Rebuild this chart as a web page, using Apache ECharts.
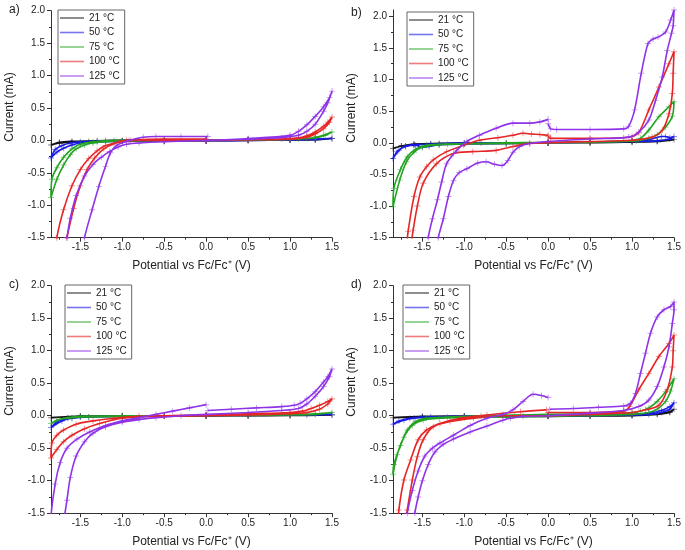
<!DOCTYPE html>
<html>
<head>
<meta charset="utf-8">
<script src="https://cdn.jsdelivr.net/npm/echarts@6/dist/echarts.min.js"></script>
<style>html,body{margin:0;padding:0;background:#fff}#c{width:685px;height:550px}</style>
</head>
<body>
<div id="c"></div>
<script>
// ---------- labels ----------
const temps = ['21 °C', '50 °C', '75 °C', '100 °C', '125 °C'];
const panelLabels = ['a)', 'b)', 'c)', 'd)'];
const xTicks = [-1.5, -1.0, -0.5, 0.0, 0.5, 1.0, 1.5];
const xMinorTicks = [-1.75, -1.25, -0.75, -0.25, 0.25, 0.75, 1.25];
const yTicks = [-1.5, -1.0, -0.5, 0.0, 0.5, 1.0, 1.5, 2.0];
const yMinorTicks = [-1.25, -0.75, -0.25, 0.25, 0.75, 1.25, 1.75];
const xTitle = 'Potential vs Fc/Fc\u207A (V)';
const yTitle = 'Current (mA)';

// ---------- data: [potential V, current mA] ----------
// panel a
const a21 = [[0,0],[0.5,0.005],[1.0,0.01],[1.3,0.015],[1.5,0.03],[1.3,0.01],[1.0,0.005],[0.5,0],[0,-0.005],[-0.5,-0.01],[-1.0,-0.01],[-1.4,-0.015],[-1.6,-0.025],[-1.75,-0.04],[-1.85,-0.07],[-1.75,-0.03],[-1.6,-0.015],[-1.3,-0.005],[-1.0,0],[-0.5,0],[0,0]];
const a50 = [[0,0],[0.5,0.005],[1.0,0.01],[1.3,0.02],[1.5,0.03],[1.3,0.015],[1.0,0.008],[0.5,0],[0,-0.005],[-0.5,-0.01],[-1.0,-0.015],[-1.3,-0.02],[-1.5,-0.04],[-1.6,-0.07],[-1.7,-0.12],[-1.78,-0.18],[-1.85,-0.27],[-1.8,-0.14],[-1.72,-0.08],[-1.62,-0.04],[-1.5,-0.02],[-1.2,-0.005],[-0.8,0],[0,0]];
const a75 = [[0,0],[0.5,0.005],[1.0,0.015],[1.2,0.03],[1.3,0.05],[1.4,0.08],[1.5,0.13],[1.42,0.08],[1.3,0.04],[1.1,0.02],[0.5,0.005],[0,0],[-0.5,-0.005],[-1.0,-0.01],[-1.2,-0.02],[-1.35,-0.04],[-1.45,-0.07],[-1.55,-0.13],[-1.62,-0.22],[-1.7,-0.38],[-1.78,-0.6],[-1.85,-0.88],[-1.84,-0.6],[-1.78,-0.42],[-1.7,-0.26],[-1.6,-0.13],[-1.5,-0.06],[-1.35,-0.02],[-1.1,0],[-0.5,0.005],[0,0.005]];
const a100 = [[0,0],[0.5,0.01],[0.9,0.02],[1.1,0.04],[1.2,0.07],[1.3,0.13],[1.4,0.22],[1.45,0.28],[1.5,0.36],[1.47,0.28],[1.4,0.18],[1.3,0.1],[1.2,0.05],[1.0,0.02],[0.5,0.01],[0,0],[-0.5,0],[-0.95,0],[-1.1,-0.05],[-1.22,-0.13],[-1.33,-0.27],[-1.42,-0.45],[-1.5,-0.7],[-1.58,-1.05],[-1.66,-1.5],[-1.72,-1.9],[-1.85,-2.6],[-1.8,-1.85],[-1.78,-1.5],[-1.7,-1.07],[-1.6,-0.7],[-1.5,-0.45],[-1.4,-0.28],[-1.3,-0.16],[-1.2,-0.08],[-1.05,-0.03],[-0.9,0],[-0.5,0.02],[0,0.02]];
const a125 = [[0,0],[0.5,0.02],[0.9,0.04],[1.0,0.06],[1.1,0.08],[1.2,0.14],[1.3,0.25],[1.4,0.45],[1.45,0.58],[1.5,0.76],[1.47,0.66],[1.4,0.52],[1.3,0.37],[1.2,0.24],[1.1,0.14],[1.0,0.08],[0.5,0.03],[0,0],[-0.5,-0.02],[-0.8,-0.04],[-0.95,-0.06],[-1.05,-0.1],[-1.15,-0.17],[-1.25,-0.26],[-1.35,-0.37],[-1.45,-0.55],[-1.55,-0.85],[-1.62,-1.2],[-1.66,-1.5],[-1.72,-1.95],[-1.85,-2.8],[-1.5,-1.95],[-1.45,-1.5],[-1.36,-1.07],[-1.28,-0.71],[-1.2,-0.4],[-1.14,-0.19],[-1.06,-0.07],[-0.92,0],[-0.75,0.05],[-0.6,0.06],[-0.3,0.06],[0.02,0.06]];
// panel b
const b21 = [[0,0],[0.5,0.01],[1.0,0.02],[1.3,0.03],[1.5,0.05],[1.3,0.02],[1.0,0.01],[0.5,0],[0,0],[-0.5,-0.01],[-1.0,-0.01],[-1.4,-0.02],[-1.6,-0.03],[-1.75,-0.05],[-1.85,-0.09],[-1.75,-0.05],[-1.6,-0.02],[-1.3,-0.01],[-0.8,0],[0,0]];
const b50 = [[0,0],[0.5,0.01],[1.0,0.03],[1.2,0.05],[1.35,0.1],[1.4,0.1],[1.45,0.08],[1.5,0.1],[1.45,0.06],[1.3,0.03],[1.0,0.02],[0.5,0.01],[0,0],[-0.5,-0.01],[-1.0,-0.02],[-1.3,-0.03],[-1.42,-0.06],[-1.5,-0.07],[-1.58,-0.04],[-1.7,-0.06],[-1.78,-0.12],[-1.85,-0.25],[-1.8,-0.14],[-1.7,-0.05],[-1.6,-0.03],[-1.4,-0.02],[-1.0,0],[0,0]];
const b75 = [[0,0],[0.5,0.01],[1.0,0.03],[1.1,0.07],[1.2,0.2],[1.32,0.41],[1.44,0.57],[1.5,0.65],[1.48,0.42],[1.4,0.25],[1.3,0.13],[1.2,0.07],[1.05,0.03],[0.5,0.01],[0,0],[-0.5,-0.01],[-1.0,-0.02],[-1.3,-0.03],[-1.5,-0.07],[-1.6,-0.15],[-1.69,-0.3],[-1.77,-0.59],[-1.85,-1.01],[-1.84,-0.72],[-1.76,-0.42],[-1.68,-0.22],[-1.58,-0.1],[-1.45,-0.04],[-1.2,-0.02],[-0.5,0],[0,0.005]];
const b100 = [[0,0.1],[0.03,0.07],[0.5,0.07],[0.9,0.08],[1.0,0.1],[1.08,0.16],[1.2,0.52],[1.32,0.88],[1.44,1.25],[1.5,1.44],[1.49,1.1],[1.48,0.78],[1.44,0.46],[1.36,0.2],[1.24,0.09],[1.0,0.04],[0.5,0.02],[0,0],[-0.22,-0.01],[-0.42,-0.06],[-0.62,-0.12],[-0.9,-0.14],[-1.13,-0.17],[-1.33,-0.33],[-1.49,-0.64],[-1.56,-1.0],[-1.61,-1.38],[-1.65,-1.7],[-1.85,-2.6],[-1.7,-1.75],[-1.67,-1.4],[-1.6,-0.85],[-1.53,-0.54],[-1.45,-0.38],[-1.37,-0.27],[-1.21,-0.14],[-1.01,-0.04],[-0.82,0.04],[-0.6,0.08],[-0.42,0.12],[-0.3,0.15],[-0.2,0.14],[-0.1,0.13],[0,0.12]];
const b125 = [[0,0.3],[0.03,0.22],[0.1,0.21],[0.5,0.21],[0.9,0.22],[0.96,0.26],[1.03,0.52],[1.11,1.1],[1.19,1.57],[1.25,1.64],[1.31,1.67],[1.4,1.75],[1.46,1.94],[1.5,2.1],[1.49,1.85],[1.47,1.73],[1.42,1.46],[1.36,1.04],[1.28,0.67],[1.2,0.36],[1.08,0.17],[0.96,0.09],[0.5,0.06],[0,0.02],[-0.22,-0.01],[-0.34,-0.06],[-0.42,-0.15],[-0.48,-0.28],[-0.55,-0.36],[-0.64,-0.34],[-0.74,-0.3],[-0.84,-0.32],[-0.97,-0.41],[-1.06,-0.47],[-1.13,-0.6],[-1.19,-0.85],[-1.25,-1.2],[-1.31,-1.5],[-1.36,-1.9],[-1.85,-2.8],[-1.46,-1.9],[-1.43,-1.5],[-1.38,-1.2],[-1.32,-0.9],[-1.27,-0.62],[-1.21,-0.33],[-1.09,-0.12],[-0.97,0.02],[-0.82,0.12],[-0.62,0.23],[-0.42,0.31],[-0.22,0.31],[-0.1,0.33],[0,0.37]];
// panel c
const c21 = [[0,0],[0.5,0.003],[1.0,0.005],[1.5,0.01],[1.0,0.003],[0.5,0],[0,-0.003],[-0.5,-0.005],[-1.0,-0.008],[-1.5,-0.01],[-1.85,-0.03],[-1.5,-0.005],[-1.0,0],[0,0]];
const c50 = [[0,0],[0.5,0.005],[1.0,0.01],[1.5,0.02],[1.2,0.01],[0.5,0.005],[0,0],[-0.5,-0.005],[-1.0,-0.01],[-1.4,-0.02],[-1.6,-0.04],[-1.72,-0.08],[-1.85,-0.18],[-1.78,-0.1],[-1.65,-0.04],[-1.5,-0.02],[-1.0,-0.005],[0,0]];
const c75 = [[0,0],[0.5,0.01],[1.0,0.02],[1.3,0.03],[1.5,0.05],[1.3,0.02],[1.0,0.01],[0.5,0.005],[0,0],[-0.5,-0.005],[-1.0,-0.01],[-1.4,-0.02],[-1.6,-0.03],[-1.75,-0.06],[-1.85,-0.12],[-1.78,-0.07],[-1.65,-0.03],[-1.5,-0.01],[-1.0,0],[0,0]];
const c100 = [[0,0.01],[0.5,0.03],[1.0,0.05],[1.15,0.07],[1.25,0.11],[1.35,0.16],[1.45,0.22],[1.5,0.26],[1.45,0.18],[1.35,0.1],[1.2,0.05],[1.0,0.03],[0.5,0.01],[0,0],[-0.5,-0.01],[-1.0,-0.04],[-1.27,-0.12],[-1.45,-0.2],[-1.6,-0.3],[-1.7,-0.4],[-1.78,-0.52],[-1.85,-0.65],[-1.84,-0.42],[-1.78,-0.3],[-1.7,-0.22],[-1.55,-0.13],[-1.35,-0.08],[-1.1,-0.04],[-0.8,-0.01],[-0.5,0],[0,0.01]];
const c125 = [[0.02,0.08],[0.3,0.1],[0.6,0.12],[0.9,0.14],[1.05,0.16],[1.12,0.19],[1.2,0.26],[1.3,0.37],[1.4,0.52],[1.45,0.6],[1.5,0.72],[1.47,0.6],[1.4,0.45],[1.3,0.3],[1.2,0.18],[1.1,0.11],[0.9,0.08],[0.5,0.05],[0,0.02],[-0.3,0],[-0.6,-0.03],[-0.8,-0.06],[-1.0,-0.1],[-1.2,-0.17],[-1.35,-0.27],[-1.45,-0.4],[-1.55,-0.62],[-1.62,-0.95],[-1.66,-1.3],[-1.7,-1.65],[-1.78,-2.4],[-1.85,-2.8],[-1.85,-1.6],[-1.8,-1.05],[-1.74,-0.72],[-1.66,-0.5],[-1.54,-0.36],[-1.39,-0.25],[-1.2,-0.15],[-1.0,-0.08],[-0.8,-0.03],[-0.6,0.02],[-0.4,0.07],[-0.2,0.12],[0,0.17]];
// panel d
const d21 = [[0,0],[0.5,0.005],[1.0,0.01],[1.3,0.03],[1.45,0.06],[1.5,0.1],[1.45,0.05],[1.3,0.02],[1.0,0],[0.5,-0.005],[0,-0.01],[-0.5,-0.01],[-1.0,-0.015],[-1.5,-0.02],[-1.85,-0.03],[-1.5,-0.01],[-1.0,-0.005],[0,0]];
const d50 = [[0,0],[0.5,0.01],[1.0,0.02],[1.2,0.04],[1.35,0.08],[1.45,0.14],[1.5,0.2],[1.45,0.1],[1.35,0.05],[1.2,0.02],[1.0,0.01],[0.5,0],[0,-0.005],[-0.5,-0.01],[-1.0,-0.015],[-1.4,-0.02],[-1.6,-0.04],[-1.72,-0.07],[-1.85,-0.13],[-1.78,-0.08],[-1.65,-0.04],[-1.5,-0.02],[-1.0,-0.005],[0,0]];
const d75 = [[0,0.02],[0.5,0.03],[1.0,0.05],[1.1,0.07],[1.2,0.12],[1.3,0.22],[1.4,0.37],[1.5,0.57],[1.46,0.38],[1.4,0.22],[1.3,0.1],[1.2,0.05],[1.0,0.02],[0.5,0],[0,-0.01],[-0.5,-0.02],[-1.0,-0.03],[-1.3,-0.04],[-1.49,-0.07],[-1.62,-0.15],[-1.72,-0.33],[-1.8,-0.6],[-1.85,-0.9],[-1.84,-0.75],[-1.76,-0.46],[-1.68,-0.22],[-1.58,-0.09],[-1.45,-0.04],[-1.2,-0.02],[-0.8,0],[-0.4,0.01],[0,0.02]];
const d100 = [[0,0.05],[0.5,0.05],[0.9,0.07],[0.97,0.14],[1.08,0.4],[1.2,0.65],[1.32,0.91],[1.44,1.11],[1.5,1.24],[1.49,1.0],[1.48,0.75],[1.42,0.4],[1.32,0.16],[1.16,0.09],[1.0,0.05],[0.5,0.02],[0,0],[-0.54,0],[-0.89,-0.04],[-1.17,-0.09],[-1.37,-0.17],[-1.49,-0.37],[-1.56,-0.63],[-1.62,-0.99],[-1.68,-1.45],[-1.72,-1.8],[-1.85,-2.6],[-1.8,-1.8],[-1.78,-1.45],[-1.72,-0.99],[-1.64,-0.68],[-1.55,-0.37],[-1.45,-0.22],[-1.29,-0.12],[-1.05,-0.04],[-0.73,0.01],[-0.33,0.06],[-0.02,0.09]];
const d125 = [[0.02,0.1],[0.3,0.11],[0.6,0.13],[0.9,0.15],[0.98,0.19],[1.04,0.34],[1.1,0.65],[1.16,0.96],[1.22,1.27],[1.3,1.52],[1.38,1.63],[1.46,1.68],[1.5,1.75],[1.5,1.63],[1.48,1.42],[1.44,1.06],[1.38,0.75],[1.3,0.45],[1.2,0.24],[1.08,0.14],[0.9,0.08],[0.5,0.04],[0,0],[-0.3,-0.01],[-0.45,-0.04],[-0.54,-0.07],[-0.73,-0.16],[-0.93,-0.25],[-1.13,-0.36],[-1.25,-0.44],[-1.35,-0.56],[-1.43,-0.75],[-1.5,-1.0],[-1.55,-1.25],[-1.59,-1.5],[-1.63,-1.9],[-1.85,-2.8],[-1.72,-1.9],[-1.68,-1.5],[-1.62,-1.15],[-1.55,-0.85],[-1.47,-0.62],[-1.38,-0.5],[-1.29,-0.42],[-1.13,-0.3],[-0.93,-0.15],[-0.73,-0.04],[-0.54,0.02],[-0.42,0.09],[-0.3,0.22],[-0.18,0.33],[-0.08,0.31],[0,0.28]];

const panels = [[a21,a50,a75,a100,a125],[b21,b50,b75,b100,b125],[c21,c50,c75,c100,c125],[d21,d50,d75,d100,d125]];

// ---------- styling ----------
const colors = ['#111111', '#1a1ae6', '#22a322', '#e62626', '#8f33e8'];
const FONT = '"Liberation Sans", Arial, sans-serif';
const grids = [
  {left: 51, top: 10.7, width: 281, height: 227},
  {left: 393, top: 9.9, width: 281, height: 227.8},
  {left: 51, top: 285.7, width: 281, height: 227.5},
  {left: 393, top: 285.7, width: 281, height: 227.5}
];
const yMax = [2.0, 2.1, 2.0, 2.0];
const legendPos = [[58, 10], [407, 12], [65, 285], [403, 285]];
const labelPos = [[9, 10], [351, 13], [9, 285], [351, 285]];
const yTitlePos = [[10, 107], [352, 108], [10, 381], [352, 382]];
const plusSym = 'path://M0,0.42H1V0.58H0Z M0.42,0H0.58V1H0.42Z';

const xAxes = [], yAxes = [], series = [], legends = [], graphics = [];
grids.forEach((g, i) => {
  const axisLine = {show: true, onZero: false, lineStyle: {color: '#333', width: 1}};
  const hiddenLine = {show: false, onZero: false};
  xAxes.push({
    gridIndex: i, type: 'value', min: -1.85, max: 1.5, position: 'bottom',
    axisLine, splitLine: {show: false},
    axisTick: {show: true, inside: false, length: 4, lineStyle: {color: '#333'}, customValues: xTicks},
    axisLabel: {show: true, customValues: xTicks, margin: 5, fontSize: 10, color: '#222', fontFamily: FONT,
      formatter: v => v.toFixed(1)},
    name: xTitle, nameLocation: 'middle', nameGap: 22,
    nameTextStyle: {fontSize: 12, color: '#222', fontFamily: FONT}
  });
  xAxes.push({
    gridIndex: i, type: 'value', min: -1.85, max: 1.5, position: 'bottom',
    axisLine: hiddenLine, splitLine: {show: false}, axisLabel: {show: false},
    axisTick: {show: true, inside: false, length: 2, lineStyle: {color: '#333'}, customValues: xMinorTicks}
  });
  yAxes.push({
    gridIndex: i, type: 'value', min: -1.5, max: yMax[i], position: 'left',
    axisLine, splitLine: {show: false},
    axisTick: {show: true, inside: false, length: 4, lineStyle: {color: '#333'}, customValues: yTicks},
    axisLabel: {show: true, customValues: yTicks, margin: 6, fontSize: 10, color: '#222', fontFamily: FONT,
      formatter: v => v.toFixed(1)}
  });
  yAxes.push({
    gridIndex: i, type: 'value', min: -1.5, max: yMax[i], position: 'left',
    axisLine: hiddenLine, splitLine: {show: false}, axisLabel: {show: false},
    axisTick: {show: true, inside: false, length: 2, lineStyle: {color: '#333'}, customValues: yMinorTicks}
  });
  panels[i].forEach((data, t) => {
    series.push({
      type: 'line', name: temps[t], xAxisIndex: 2 * i, yAxisIndex: 2 * i, data,
      smooth: 0.3, clip: true, showSymbol: true, symbol: plusSym, symbolSize: 6,
      lineStyle: {width: 1.6, color: colors[t]},
      itemStyle: {color: colors[t], opacity: 0.5},
      emphasis: {disabled: true}, z: 2 + t, animation: false
    });
  });
  legends.push({
    left: legendPos[i][0], top: legendPos[i][1], orient: 'vertical', data: temps,
    icon: 'rect', itemWidth: 24, itemHeight: 1.6, itemGap: 0.5, selectedMode: false,
    borderColor: '#666', borderWidth: 1, padding: [1, 5, 1, 2],
    itemStyle: {opacity: 0.6},
    textStyle: {fontSize: 10, color: '#222', fontFamily: FONT, lineHeight: 14}
  });
  graphics.push({type: 'text', x: labelPos[i][0], y: labelPos[i][1],
    style: {text: panelLabels[i], fill: '#222', font: '12px ' + FONT, verticalAlign: 'middle'}});
  graphics.push({type: 'text', x: yTitlePos[i][0], y: yTitlePos[i][1], rotation: Math.PI / 2,
    style: {text: yTitle, fill: '#222', font: '12px ' + FONT, align: 'center', verticalAlign: 'middle'}});
});

const chart = echarts.init(document.getElementById('c'), null, {renderer: 'canvas'});
chart.setOption({
  animation: false,
  backgroundColor: '#ffffff',
  textStyle: {fontFamily: FONT},
  grid: grids,
  xAxis: xAxes,
  yAxis: yAxes,
  legend: legends,
  series,
  graphic: graphics
});
</script>
</body>
</html>
